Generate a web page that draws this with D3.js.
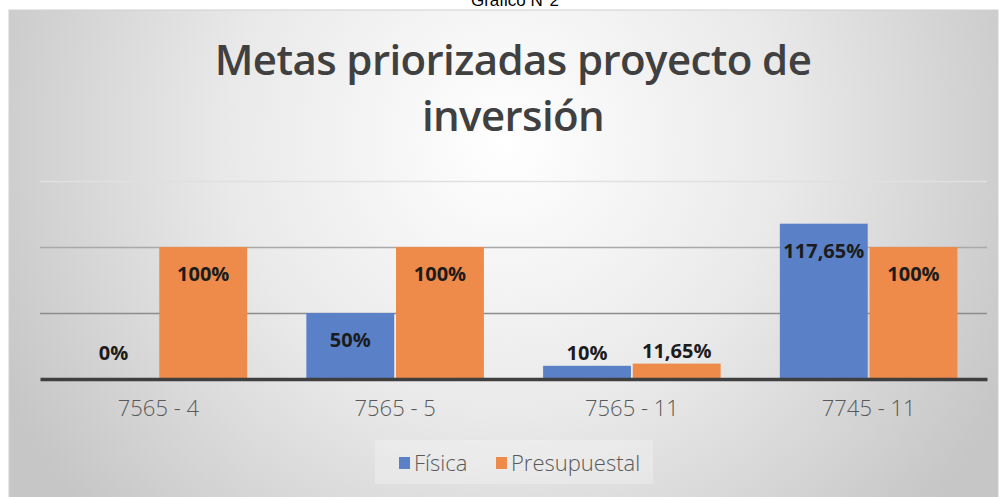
<!DOCTYPE html>
<html>
<head>
<meta charset="utf-8">
<script src="https://cdn.jsdelivr.net/npm/d3@7"></script>
<style>
	body { margin: 0; background: #ffffff; }
	svg { display: block; }
</style>
</head>
<body>
<div id="chart"></div>
<script>
// Data
const categories = ["7565 - 4", "7565 - 5", "7565 - 11", "7745 - 11"];
const series = ["Física", "Presupuestal"];
const fisica = [0, 50, 10, 117.65];
const presupuestal = [100, 100, 11.65, 100];
const value_labels_fisica = ["0%", "50%", "10%", "117,65%"];
const value_labels_presupuestal = ["100%", "100%", "11,65%", "100%"];
const grid_ticks = [0, 50, 100, 150];

const colors = {"Física": "#5a81c8", "Presupuestal": "#ee8a4a"};
const W = 1004, H = 497;
const margin = {top: 181, right: 17, bottom: 118, left: 40};

const svg = d3.select("#chart").append("svg")
	.attr("width", W)
	.attr("height", H);

// Caption above the picture, cut by the page edge as in the source
svg.append("text")
	.attr("x", 515)
	.attr("y", 6)
	.attr("text-anchor", "middle")
	.style("font-family", "Liberation Sans, Arial, sans-serif")
	.style("font-size", "17px")
	.text("Gráfico N°2");

// radial background
const defs = svg.append("defs");
const grad = defs.append("radialGradient")
	.attr("id", "bg")
	.attr("gradientUnits", "userSpaceOnUse")
	.attr("cx", 505).attr("cy", 140).attr("r", 560);
grad.append("stop").attr("offset", 0).attr("stop-color", "#ffffff");
grad.append("stop").attr("offset", 0.5).attr("stop-color", "#e9e9e9");
grad.append("stop").attr("offset", 1).attr("stop-color", "#c6c6c6");

svg.append("rect")
	.attr("x", 9).attr("y", 10)
	.attr("width", 989).attr("height", H)
	.attr("fill", "url(#bg)")
	.attr("stroke", "#cfcfcf")
	.attr("stroke-width", 1);

// Title
const title = svg.append("text")
	.attr("text-anchor", "middle")
	.attr("fill", "#404040")
	.style("font-family", "Open Sans, sans-serif")
	.style("font-weight", "600")
	.style("letter-spacing", "-0.6px")
	.style("font-size", "42px");
title.append("tspan").attr("x", 513).attr("y", 75).text("Metas priorizadas proyecto de");
title.append("tspan").attr("x", 513).attr("y", 131).text("inversión");

// scales
const x0 = d3.scaleBand()
	.domain(categories)
	.range([margin.left, W - margin.right])
	.paddingInner(0.25)
	.paddingOuter(0.125);

const x1 = d3.scaleBand()
	.domain(series)
	.range([0, x0.bandwidth()])
	.paddingInner(0.02);

const y = d3.scaleLinear()
	.domain([0, 150])
	.range([H - margin.bottom, margin.top]);

// gridlines
const gridColor = {50: "#8c8c8c", 100: "#a9a9a9", 150: "#e0e0e0"};
const grid = svg.append("g")
	.attr("transform", `translate(${margin.left},0)`)
	.call(d3.axisLeft(y).tickValues(grid_ticks.filter(d => d > 0))
		.tickSize(-(W - margin.right - margin.left)).tickFormat(""));
grid.select(".domain").remove();
grid.selectAll(".tick line")
	.attr("stroke", d => gridColor[d])
	.attr("stroke-width", 1.5);

// bars
const rows = categories.map(function(c, i) {
	return [
		{cat: c, s: "Física", v: fisica[i], label: value_labels_fisica[i]},
		{cat: c, s: "Presupuestal", v: presupuestal[i], label: value_labels_presupuestal[i]}
	];
});

const groups = svg.append("g").selectAll("g")
	.data(rows)
	.join("g")
	.attr("transform", d => `translate(${x0(d[0].cat)},0)`);

groups.selectAll("rect")
	.data(d => d)
	.join("rect")
	.attr("x", d => x1(d.s))
	.attr("y", d => y(d.v))
	.attr("width", x1.bandwidth())
	.attr("height", d => y(0) - y(d.v))
	.attr("fill", d => colors[d.s]);

groups.selectAll("text")
	.data(d => d)
	.join("text")
	.attr("x", d => x1(d.s) + x1.bandwidth() / 2)
	.attr("y", function(d) {
		if (d.v >= 50) return y(d.v) + 34;
		return Math.min(y(d.v) - 6, y(0) - 19);
	})
	.attr("text-anchor", "middle")
	.attr("fill", "#1c1c1c")
	.style("font-family", "Open Sans, sans-serif")
	.style("font-weight", "bold")
	.style("font-size", "20px")
	.text(d => d.label);

// x axis
const xAxis = svg.append("g")
	.attr("transform", `translate(0,${y(0)})`)
	.call(d3.axisBottom(x0).tickSize(0).tickPadding(37));
xAxis.select(".domain")
	.attr("stroke", "#3f3f3f")
	.attr("stroke-width", 3.5);
xAxis.selectAll("text")
	.attr("dy", 0)
	.attr("fill", "#595959")
	.style("font-family", "Open Sans, sans-serif")
	.style("font-weight", "300")
	.style("font-size", "22px");

// legend
const legend = svg.append("g");
legend.append("rect")
	.attr("x", 375).attr("y", 440)
	.attr("width", 278).attr("height", 44)
	.attr("fill", "#ffffff").attr("opacity", 0.25);
const legendX = [399, 496];
series.forEach(function(s, i) {
	legend.append("rect")
		.attr("x", legendX[i]).attr("y", 457)
		.attr("width", 11).attr("height", 12)
		.attr("fill", colors[s]);
	legend.append("text")
		.attr("x", legendX[i] + 15).attr("y", 471)
		.attr("fill", "#595959")
		.style("font-family", "Open Sans, sans-serif")
		.style("font-weight", "300")
		.style("font-size", "22px")
		.text(s);
});
</script>
</body>
</html>
